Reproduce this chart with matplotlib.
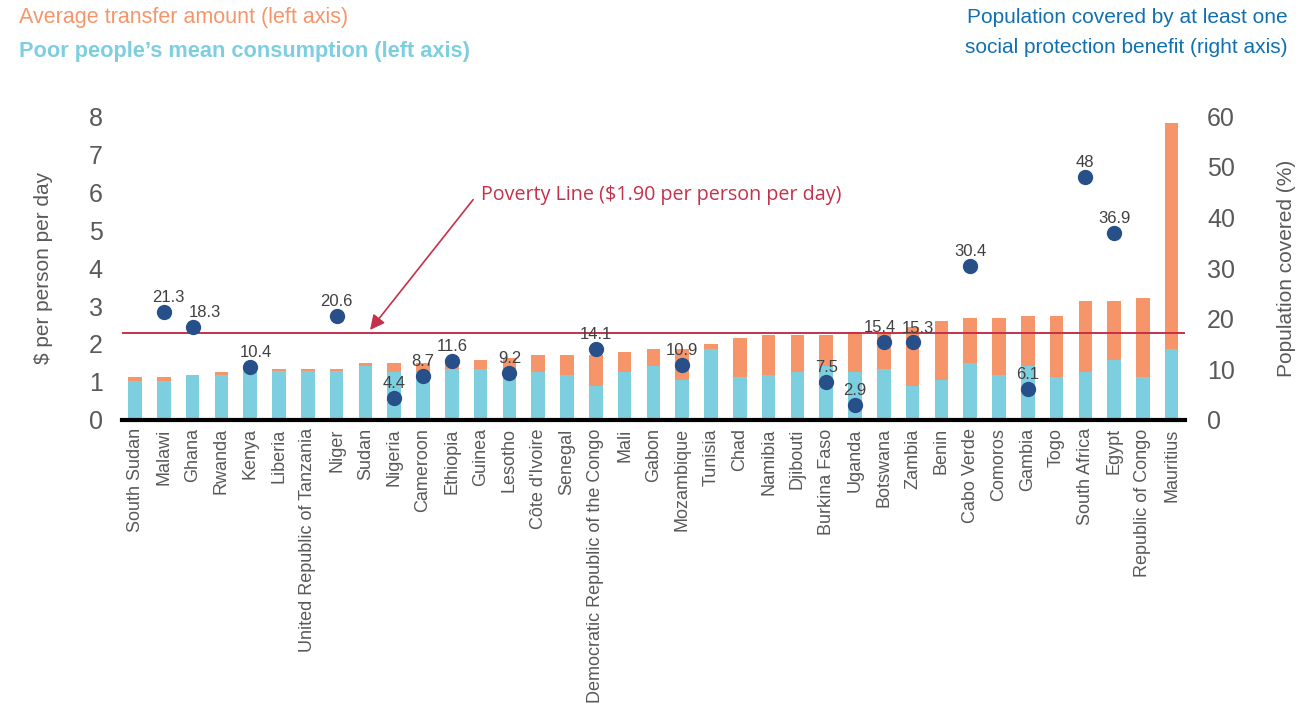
import matplotlib
matplotlib.use("Agg")
import matplotlib.pyplot as plt
import numpy as np

plt.rcParams['font.family'] = ['Liberation Sans Narrow', 'Liberation Sans', 'DejaVu Sans']

countries = ["South Sudan", "Malawi", "Ghana", "Rwanda", "Kenya", "Liberia",
             "United Republic of Tanzania", "Niger", "Sudan", "Nigeria", "Cameroon",
             "Ethiopia", "Guinea", "Lesotho", "Côte d'Ivoire", "Senegal",
             "Democratic Republic of the Congo", "Mali", "Gabon", "Mozambique",
             "Tunisia", "Chad", "Namibia", "Djibouti", "Burkina Faso", "Uganda",
             "Botswana", "Zambia", "Benin", "Cabo Verde", "Comoros", "Gambia",
             "Togo", "South Africa", "Egypt", "Republic of Congo", "Mauritius"]

# poor people's mean consumption ($/day)
consumption = [1.03, 1.03, 1.19, 1.19, 1.28, 1.28, 1.28, 1.28, 1.42, 1.27, 1.27,
               1.35, 1.35, 1.35, 1.27, 1.19, 0.89, 1.27, 1.42, 1.04, 1.87, 1.12,
               1.19, 1.27, 1.42, 1.27, 1.35, 0.89, 1.04, 1.49, 1.19, 1.42, 1.12,
               1.27, 1.57, 1.12, 1.87]

# consumption plus average transfer amount ($/day)
with_transfer = [1.12, 1.12, 1.19, 1.26, 1.35, 1.35, 1.35, 1.35, 1.49, 1.49, 1.49,
                 1.49, 1.57, 1.64, 1.71, 1.71, 1.71, 1.79, 1.87, 1.87, 2.01, 2.16,
                 2.24, 2.24, 2.24, 2.31, 2.31, 2.46, 2.61, 2.68, 2.68, 2.75, 2.75,
                 3.13, 3.13, 3.21, 7.83]

# population covered by at least one benefit (%)
cov_countries = ["Malawi", "Ghana", "Kenya", "Niger", "Nigeria", "Cameroon", "Ethiopia",
                 "Lesotho", "Democratic Republic of the Congo", "Mozambique",
                 "Burkina Faso", "Uganda", "Botswana", "Zambia", "Cabo Verde",
                 "Gambia", "South Africa", "Egypt"]
coverage = [21.3, 18.3, 10.4, 20.6, 4.4, 8.7, 11.6, 9.2, 14.1, 10.9, 7.5, 2.9,
            15.4, 15.3, 30.4, 6.1, 48, 36.9]

poverty_line = 2.28

orange = '#F7956A'
lblue = '#7DCFE0'
dblue = '#27508A'
red = '#C4314B'
grey = '#595959'

# small sideways nudges for crowded point labels (points)
nudge = {"Malawi": 3, "Ghana": 9, "Kenya": 4, "Botswana": -3, "Zambia": 4}

transfer = np.array(with_transfer) - np.array(consumption)
x = np.arange(len(countries))

fig = plt.figure(figsize=(12.99, 7.10), dpi=100)
ax = fig.add_axes([0.094, 0.4085, 0.818, 0.428])

ax.bar(x, consumption, width=0.47, color=lblue, zorder=2)
ax.bar(x, transfer, width=0.47, bottom=consumption, color=orange, zorder=2)
ax.axhline(poverty_line, color=red, lw=1.4, zorder=3)

ax.set_ylim(0, 8)
ax.set_xlim(-0.45, len(countries) - 0.55)
ax.set_yticks(range(0, 9))
ax.set_xticks(x)
ax.set_xticklabels(countries, rotation=90, fontsize=13, color=grey)
ax.tick_params(axis='y', length=0, labelsize=18, labelcolor=grey, pad=14)
ax.tick_params(axis='x', length=0, pad=6)
for s in ['top', 'right', 'left']:
    ax.spines[s].set_visible(False)
ax.spines['bottom'].set_linewidth(3)
ax.set_ylabel("$ per person per day", fontsize=15, color=grey, labelpad=26)

ax2 = ax.twinx()
ax2.set_ylim(0, 60)
ax2.set_yticks(range(0, 61, 10))
ax2.tick_params(axis='y', length=0, labelsize=18, labelcolor=grey, pad=16)
for s in ax2.spines.values():
    s.set_visible(False)
ax2.set_ylabel("Population covered (%)", fontsize=15, color=grey, labelpad=30)

cx = [countries.index(c) for c in cov_countries]
ax2.scatter(cx, coverage, s=100, color=dblue, zorder=5)
for name, xi, v in zip(cov_countries, cx, coverage):
    ax2.annotate(f"{v:g}", (xi, v), xytext=(nudge.get(name, 0), 5),
                 textcoords='offset points', ha='center', va='bottom',
                 fontsize=12, color='#404040')

# poverty line annotation
ax.annotate('', xy=(8.16, 2.37), xytext=(11.74, 5.8),
            arrowprops=dict(arrowstyle='-|>', color=red, lw=1.2,
                            mutation_scale=22, shrinkA=0, shrinkB=0))
ax.text(12.0, 5.93, "Poverty Line ($1.90 per person per day)", color=red,
        fontsize=14.2, family=['Open Sans', 'DejaVu Sans'], va='center', ha='left')

fig.text(0.015, 0.975, "Average transfer amount (left axis)", color=orange,
         fontsize=15.5, va='center', ha='left')
fig.text(0.015, 0.928, "Poor people\u2019s mean consumption (left axis)", color=lblue,
         fontsize=15.7, fontweight='bold', va='center', ha='left')
fig.text(0.991, 0.975, "Population covered by at least one", color='#1070B0',
         fontsize=15, va='center', ha='right')
fig.text(0.991, 0.933, "social protection benefit (right axis)", color='#1070B0',
         fontsize=15, va='center', ha='right')

fig.savefig("out.png", dpi=100)
